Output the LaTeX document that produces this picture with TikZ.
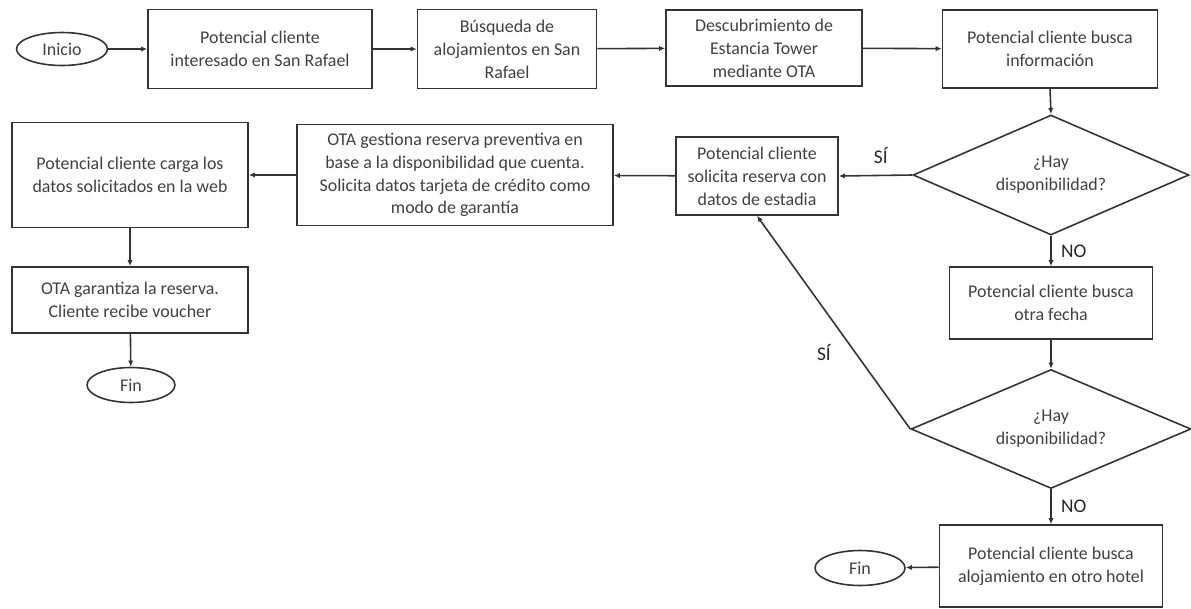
\documentclass[tikz,border=0pt]{standalone}
\usepackage{fontspec}
\setmainfont{Carlito}
\usetikzlibrary{shapes.geometric,arrows.meta}
\tikzset{
  box/.style={draw=black!80, line width=0.9pt, align=center, inner sep=2pt, text=black!75, font=\fontsize{10.2}{13}\selectfont},
  term/.style={ellipse, draw=black!80, line width=0.9pt, inner sep=0pt, text=black!75, font=\fontsize{10.2}{13}\selectfont},
  decision/.style={diamond, draw=black!80, line width=0.9pt, aspect=2.3, inner sep=0pt, align=center, text=black!75, font=\fontsize{10.2}{13}\selectfont},
  flow/.style={draw=black!80, line width=0.9pt, -{Latex[length=3.5pt,width=3pt]}},
  answer/.style={font=\fontsize{11}{13}\selectfont, text=black!85}
}
\begin{document}
\begin{tikzpicture}[x=0.02cm,y=-0.02cm]
\useasboundingbox (0,0) rectangle (1191,609);
% top row
\node[term, minimum width=1.82cm, minimum height=0.66cm] (inicio) at (62,49) {Inicio};
\node[box, minimum width=4.48cm, minimum height=1.58cm] (interes) at (260,49) {Potencial cliente\\interesado en San Rafael};
\node[box, minimum width=3.58cm, minimum height=1.58cm] (busqueda) at (507,49) {Búsqueda de\\alojamientos en San\\Rafael};
\node[box, minimum width=3.92cm, minimum height=1.52cm] (descubre) at (764,48) {Descubrimiento de\\Estancia Tower\\mediante OTA};
\node[box, minimum width=4.3cm, minimum height=1.56cm] (info) at (1050,49) {Potencial cliente busca\\información};
% middle row
\node[decision, minimum width=5.52cm, minimum height=2.4cm] (dispo) at (1051,175) {¿Hay\\disponibilidad?};
\node[box, minimum width=3.24cm, minimum height=1.56cm] (solicita) at (757,176) {Potencial cliente\\solicita reserva con\\datos de estadia};
\node[box, minimum width=6.32cm, minimum height=2.02cm] (gestiona) at (455,175) {OTA gestiona reserva preventiva en\\base a la disponibilidad que cuenta.\\Solicita datos tarjeta de crédito como\\modo de garantía};
\node[box, minimum width=4.72cm, minimum height=2.1cm] (carga) at (130,175) {Potencial cliente carga los\\datos solicitados en la web};
\node[box, minimum width=4.72cm, minimum height=1.32cm] (garantiza) at (130,300) {OTA garantiza la reserva.\\Cliente recibe voucher};
\node[term, minimum width=1.76cm, minimum height=0.7cm] (fin) at (131,385) {Fin};
% right column
\node[box, minimum width=4.06cm, minimum height=1.44cm] (fecha) at (1051,303) {Potencial cliente busca\\otra fecha};
\node[decision, minimum width=5.6cm, minimum height=2.38cm] (dispodos) at (1051,429) {¿Hay\\disponibilidad?};
\node[box, minimum width=4.46cm, minimum height=1.64cm] (hotel) at (1051,566) {Potencial cliente busca\\alojamiento en otro hotel};
\node[term, minimum width=1.8cm, minimum height=0.7cm] (findos) at (860,568) {Fin};
% connectors
\draw[flow] (inicio) -- (interes);
\draw[flow] (interes) -- (busqueda);
\draw[flow] (busqueda) -- (descubre);
\draw[flow] (descubre) -- (info);
\draw[flow] (info.south) -- (dispo.north);
\draw[flow] (dispo.west) -- node[answer, above=3pt, xshift=3pt] {SÍ} (solicita.east);
\draw[flow] (dispo.south) -- node[answer, right=2pt] {NO} (fecha.north);
\draw[flow] (solicita) -- (gestiona);
\draw[flow] (gestiona) -- (carga);
\draw[flow] (carga) -- (garantiza);
\draw[flow] (garantiza) -- (fin);
\draw[flow] (fecha.south) -- (dispodos.north);
\draw[flow] (dispodos.west) -- node[answer, pos=0.36, left=10pt] {SÍ} (solicita.south);
\draw[flow] (dispodos.south) -- node[answer, right=2pt] {NO} (hotel.north);
\draw[flow] (hotel) -- (findos);
\end{tikzpicture}
\end{document}
